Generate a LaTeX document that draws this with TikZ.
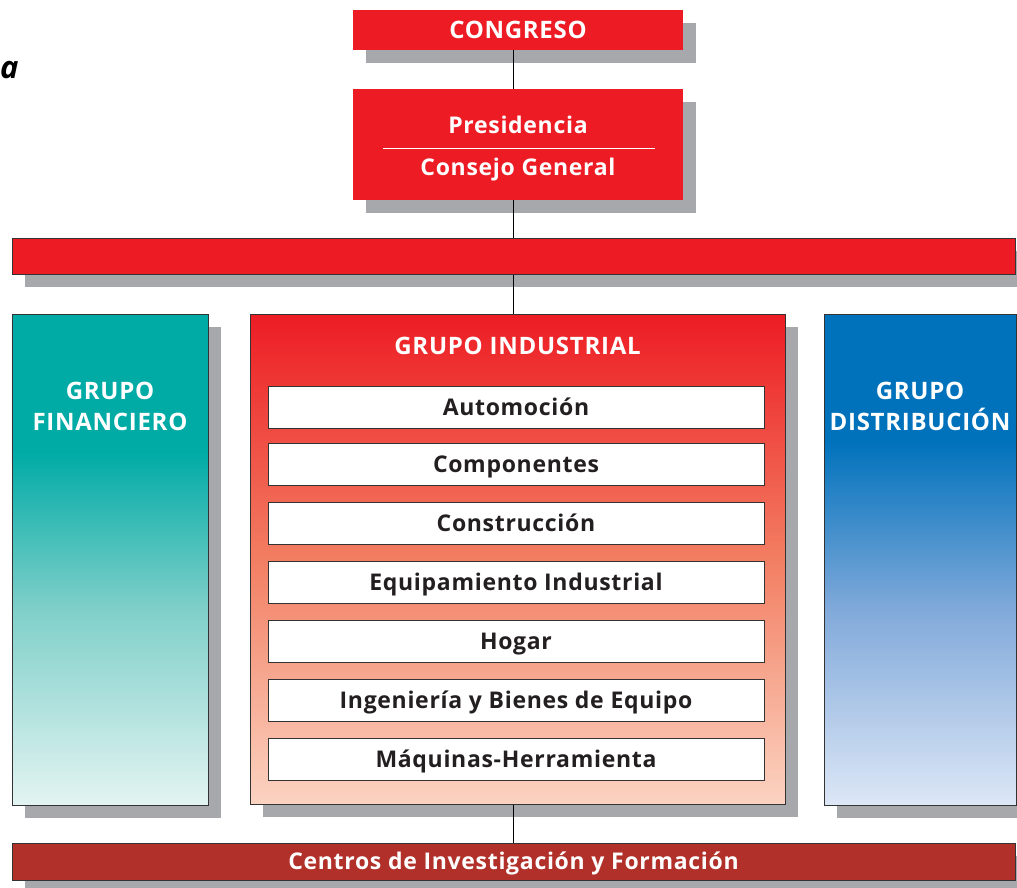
\documentclass[tikz,border=0pt]{standalone}
\usepackage{fontspec}
\setmainfont{Open Sans}[LetterSpace=3]
\usetikzlibrary{shadows,calc}
\definecolor{cred}{HTML}{ED1C24}
\definecolor{cshadow}{HTML}{A6A8AB}
\definecolor{cborder}{HTML}{333333}
\definecolor{tealT}{HTML}{00ABA6}
\definecolor{tealM}{HTML}{7FCFC9}
\definecolor{tealB}{HTML}{E3F4F2}
\definecolor{blueT}{HTML}{0072BC}
\definecolor{blueM}{HTML}{80A9DA}
\definecolor{blueB}{HTML}{DDE7F6}
\definecolor{redM}{HTML}{F27E62}
\definecolor{redB}{HTML}{FBD3C1}
\definecolor{cdark}{HTML}{B1312A}
\definecolor{ctext}{HTML}{231F20}
\pgfdeclareverticalshading{tealgrad}{100bp}{color(0bp)=(tealB); color(25bp)=(tealB); color(45bp)=(tealM); color(61bp)=(tealT); color(100bp)=(tealT)}
\pgfdeclareverticalshading{bluegrad}{100bp}{color(0bp)=(blueB); color(25bp)=(blueB); color(45bp)=(blueM); color(62bp)=(blueT); color(100bp)=(blueT)}
\pgfdeclareverticalshading{redgrad}{100bp}{color(0bp)=(redB); color(25bp)=(redB); color(50bp)=(redM); color(75bp)=(cred); color(100bp)=(cred)}
\tikzset{
  shadowed/.style={drop shadow={shadow xshift=13pt,shadow yshift=-13pt,fill=cshadow,opacity=1}},
  capc/.style={text height=16pt,text depth=0pt},
  redbox/.style={rectangle,fill=cred,inner sep=0pt,shadowed,text=white,capc,font=\bfseries\fontsize{23}{26}\selectfont},
  colbox/.style={rectangle,inner sep=0pt,draw=cborder,line width=1pt,shadowed},
  item/.style={rectangle,fill=white,draw=cborder,line width=0.9pt,minimum width=496pt,minimum height=42pt,inner sep=0pt,text=ctext,capc,font=\bfseries\fontsize{23}{26}\selectfont},
  coltext/.style={text=white,align=center,font=\bfseries\fontsize{24}{31}\selectfont},
  lbl/.style={text=white,inner sep=0pt,capc,font=\bfseries\fontsize{23}{26}\selectfont},
  conn/.style={draw=black,line width=0.8pt}
}
\begin{document}
\begin{tikzpicture}[x=1pt,y=-1pt]
\useasboundingbox (0,0) rectangle (1017,887);
\node[anchor=base west,font=\bfseries\itshape\fontsize{31}{36}\selectfont,inner sep=0pt] (title) at (0,78) {a};
\node[redbox,minimum width=330pt,minimum height=40pt,font=\bfseries\fontsize{24}{26}\selectfont] (congreso) at (518,30) {CONGRESO};
\node[redbox,minimum width=330pt,minimum height=111pt] (pres) at (518,144.5) {};
\node[lbl] (presid) at (518,125) {Presidencia};
\node[lbl] (consejo) at (518,167) {Consejo General};
\coordinate (sepL) at (383,148);
\coordinate (sepR) at (655,148);
\draw[white,line width=1pt] (sepL) -- (sepR);
\node[colbox,fill=cred,minimum width=1003pt,minimum height=36pt] (bar) at (513.5,256) {};
\node[colbox,shading=tealgrad,minimum width=196pt,minimum height=491pt] (fin) at (110,559.5) {};
\node[colbox,shading=redgrad,minimum width=535pt,minimum height=490pt] (ind) at (517.5,559) {};
\node[colbox,shading=bluegrad,minimum width=192pt,minimum height=491pt] (dis) at (920,559.5) {};
\node[coltext] (fintext) at (110,406) {GRUPO\\FINANCIERO};
\node[coltext] (distext) at (920,406) {GRUPO\\DISTRIBUCIÓN};
\node[coltext,capc] (indtext) at (517.5,346) {GRUPO INDUSTRIAL};
\node[item] (i1) at (516,407) {Automoción};
\node[item] (i2) at (516,464) {Componentes};
\node[item] (i3) at (516,523) {Construcción};
\node[item] (i4) at (516,582) {Equipamiento Industrial};
\node[item] (i5) at (516,641) {Hogar};
\node[item] (i6) at (516,700) {Ingeniería y Bienes de Equipo};
\node[item] (i7) at (516,759) {Máquinas-Herramienta};
\node[colbox,fill=cdark,minimum width=1003pt,minimum height=37pt,text=white,capc,font=\bfseries\fontsize{23}{26}\selectfont] (centros) at (513.5,861.5) {Centros de Investigación y Formación};
\draw[conn] (congreso.south -| bar.north) -- (pres.north -| bar.north);
\draw[conn] (pres.south -| bar.north) -- (bar.north);
\draw[conn] (bar.south) -- (bar.south |- ind.north);
\draw[conn] (ind.south -| centros.north) -- (centros.north);
\end{tikzpicture}
\end{document}
